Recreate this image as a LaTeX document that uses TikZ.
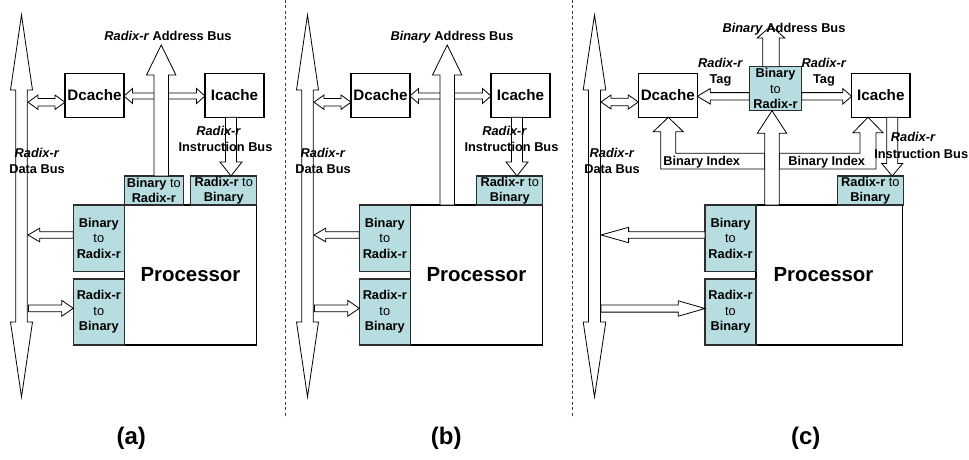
\documentclass[tikz,border=0pt]{standalone}
\usepackage{fontspec}
\setmainfont{Liberation Sans}
\usetikzlibrary{calc}

\definecolor{convblue}{RGB}{183,221,224}
\definecolor{edgegray}{RGB}{45,45,45}

\tikzset{
  blockarrow/.style={draw=black, fill=white, line width=0.8pt, line join=miter},
  whitebox/.style={draw=black, fill=white, line width=1.1pt, inner sep=0pt, outer sep=0pt},
  cache/.style={whitebox, minimum width=59pt, minimum height=44pt,
    font=\fontsize{15.2}{18}\selectfont\bfseries},
  procbox/.style={whitebox, minimum height=140pt,
    font=\fontsize{20.4}{24}\selectfont\bfseries},
  conv/.style={draw=edgegray, fill=convblue, line width=1.1pt, inner sep=0pt, outer sep=0pt,
    align=center, font=\fontsize{12.8}{15.5}\selectfont\bfseries},
  lbl/.style={inner sep=0pt, font=\fontsize{12.8}{15.5}\selectfont\bfseries},
  caption/.style={inner sep=0pt, font=\fontsize{24}{28}\selectfont\bfseries},
  separator/.style={draw=black!75, line width=0.8pt, dash pattern=on 3pt off 2.5pt}
}

% single-headed block arrow: tail, tip, shaft half-width, head half-width, head length
\newcommand\sarrow[5]{%
  \draw[blockarrow]
    ($(#1)!#3!90:(#2)$) --
    ($(#2)!#5!(#1)!#3!-90:(#1)$) --
    ($(#2)!#5!(#1)!#4!-90:(#1)$) --
    (#2) --
    ($(#2)!#5!(#1)!#4!90:(#1)$) --
    ($(#2)!#5!(#1)!#3!90:(#1)$) --
    ($(#1)!#3!-90:(#2)$) -- cycle;}

% double-headed block arrow: end, end, shaft half-width, head half-width, head length
\newcommand\darrow[5]{%
  \draw[blockarrow] (#1) --
    ($(#1)!#5!(#2)!#4!90:(#2)$) --
    ($(#1)!#5!(#2)!#3!90:(#2)$) --
    ($(#2)!#5!(#1)!#3!-90:(#1)$) --
    ($(#2)!#5!(#1)!#4!-90:(#1)$) --
    (#2) --
    ($(#2)!#5!(#1)!#4!90:(#1)$) --
    ($(#2)!#5!(#1)!#3!90:(#1)$) --
    ($(#1)!#5!(#2)!#3!-90:(#2)$) --
    ($(#1)!#5!(#2)!#4!-90:(#2)$) -- cycle;}

% parts shared by the two designs with converters at the processor
\newcommand\sharedpanel[1]{%
  \node[cache] (#1-dc) at (94.5,95.3) {Dcache};
  \node[cache] (#1-ic) at (234.5,95.3) {Icache};
  \node[procbox, minimum width=132.4pt] (#1-proc) at (190.5,275) {Processor};
  \node[conv, minimum width=66pt, minimum height=29pt] (#1-tr2b) at (223.7,190.5)
    {Radix-r \textmd{to}\\Binary};
  \node[conv, minimum width=51pt, minimum height=66.7pt] (#1-lb2r) at (98.8,238.3)
    {Binary\\\textmd{to}\\Radix-r};
  \node[conv, minimum width=51pt, minimum height=66pt] (#1-lr2b) at (98.8,312)
    {Radix-r\\\textmd{to}\\Binary};
  % data bus
  \coordinate (#1-bustop) at (21.5,15);
  \coordinate (#1-busbot) at (21.5,397);
  \darrow{#1-bustop}{#1-busbot}{5.7pt}{11pt}{75pt}
  % data bus <-> Dcache
  \coordinate (#1-bd1) at (28,102.2);
  \coordinate (#1-bd2) at (#1-dc.west |- #1-bd1);
  \darrow{#1-bd1}{#1-bd2}{3.8pt}{7.2pt}{10pt}
  % Dcache <-> Icache
  \coordinate (#1-di1) at (#1-dc.east |- 0,96);
  \coordinate (#1-di2) at (#1-ic.west |- 0,96);
  \darrow{#1-di1}{#1-di2}{3pt}{7.5pt}{8.5pt}
  % instruction bus
  \coordinate (#1-ib1) at (#1-ic.south -| 231,0);
  \coordinate (#1-ib2) at (#1-tr2b.north -| 231,0);
  \sarrow{#1-ib1}{#1-ib2}{5.5pt}{11pt}{14pt}
  % processor -> data bus, data bus -> processor
  \coordinate (#1-o1) at (#1-lb2r.west |- 0,235);
  \coordinate (#1-o2) at (28,235);
  \sarrow{#1-o1}{#1-o2}{3.3pt}{6.8pt}{11.7pt}
  \coordinate (#1-i1) at (28.5,308.3);
  \coordinate (#1-i2) at (#1-lr2b.west |- #1-i1);
  \sarrow{#1-i1}{#1-i2}{3.4pt}{8pt}{11.6pt}
  % labels
  \node[lbl, text height=9.2pt, text depth=0pt] (#1-il1) at (218.7,131) {\textit{Radix-r}};
  \node[lbl, text height=9.2pt, text depth=0pt] (#1-il2) at (225.5,147) {Instruction Bus};
  \node[lbl, align=center] (#1-dl) at (37,161) {\textit{Radix-r}\\Data Bus};
}

\begin{document}
\begin{tikzpicture}[x=1pt,y=-1pt]
\useasboundingbox (0,0) rectangle (969,460);

% ---------- (a) converters at the processor, radix-r address bus ----------
\sharedpanel{a}
\node[conv, minimum width=59pt, minimum height=29pt] (a-tb2r) at (153.8,190.5)
  {Binary \textmd{to}\\Radix-r};
\coordinate (a-addtip) at (161.2,45);
\coordinate (a-addtail) at (a-tb2r.north -| a-addtip);
\sarrow{a-addtail}{a-addtip}{7.2pt}{14.7pt}{30pt}
\node[lbl, text height=9.2pt, text depth=0pt] (a-al) at (168,36) {\textit{Radix-r} Address Bus};

% ---------- (b) converters at the processor, binary address bus ----------
\begin{scope}[shift={(286,0)}]
\sharedpanel{b}
\coordinate (b-addtip) at (161.2,45);
\coordinate (b-addtail) at (b-proc.north -| b-addtip);
\sarrow{b-addtail}{b-addtip}{7.2pt}{14.7pt}{30pt}
\node[lbl, text height=9.2pt, text depth=0pt] (b-al) at (166,36) {\textit{Binary} Address Bus};
\end{scope}

% ---------- (c) tag conversion next to the caches ----------
\node[cache] (c-dc) at (667.8,95.3) {Dcache};
\node[cache, minimum width=58.3pt] (c-ic) at (880.8,95.3) {Icache};
\node[conv, minimum width=52.4pt, minimum height=44pt] (c-cb2r) at (775.5,88.7)
  {Binary\\\textmd{to}\\Radix-r};
\node[procbox, minimum width=146.7pt] (c-proc) at (829.3,275) {};
\node[procbox, draw=none, fill=none] (c-proclbl) at (823.5,275) {Processor};
\node[conv, minimum width=65.5pt, minimum height=29pt] (c-tr2b) at (870.3,190.5)
  {Radix-r \textmd{to}\\Binary};
\node[conv, minimum width=51pt, minimum height=66.7pt] (c-lb2r) at (730.5,238.3)
  {Binary\\\textmd{to}\\Radix-r};
\node[conv, minimum width=51pt, minimum height=66pt] (c-lr2b) at (730.5,312)
  {Radix-r\\\textmd{to}\\Binary};

% data bus and its link to the Dcache
\coordinate (c-bustop) at (594.5,15);
\coordinate (c-busbot) at (594.5,397);
\darrow{c-bustop}{c-busbot}{6pt}{11.3pt}{75pt}
\coordinate (c-bd1) at (601,102);
\coordinate (c-bd2) at (c-dc.west |- c-bd1);
\darrow{c-bd1}{c-bd2}{3.8pt}{7pt}{10pt}

% binary index paths to both caches
\coordinate (c-ixl) at (c-dc.south -| 668.3,0);
\draw[blockarrow] (764.8,153.3) -- (675.8,153.3) -- (675.8,131.7) -- (683.3,131.7)
  -- (c-ixl) -- (653.3,131.7) -- (660.8,131.7) -- (660.8,169) -- (764.8,169) -- cycle;
\coordinate (c-ixr) at (c-ic.south -| 868,0);
\draw[blockarrow] (779.2,153.3) -- (860,153.3) -- (860,132.7) -- (853,132.7)
  -- (c-ixr) -- (883,132.7) -- (876,132.7) -- (876,169) -- (779.2,169) -- cycle;

% processor -> converter
\coordinate (c-up1) at (c-proc.north -| 772,0);
\coordinate (c-up2) at (c-cb2r.south -| 772,0);
\sarrow{c-up1}{c-up2}{7.2pt}{14.7pt}{22.6pt}
% binary address bus
\coordinate (c-ad1) at (c-cb2r.north -| 771,0);
\coordinate (c-ad2) at (771,26);
\sarrow{c-ad1}{c-ad2}{8.3pt}{13.8pt}{12pt}
% radix-r tags
\coordinate (c-tl1) at (c-cb2r.west |- 0,96.3);
\coordinate (c-tl2) at (c-dc.east |- 0,96.3);
\sarrow{c-tl1}{c-tl2}{3.7pt}{7.8pt}{13pt}
\coordinate (c-tr1) at (c-cb2r.east |- 0,96.3);
\coordinate (c-tr2) at (c-ic.west |- 0,96.3);
\sarrow{c-tr1}{c-tr2}{3.7pt}{7.8pt}{9pt}
% instruction bus
\coordinate (c-ib1) at (c-ic.south -| 892.2,0);
\coordinate (c-ib2) at (c-tr2b.north -| 892.2,0);
\sarrow{c-ib1}{c-ib2}{5.5pt}{10.5pt}{12.5pt}
% processor <-> data bus
\coordinate (c-o1) at (c-lb2r.west |- 0,235);
\coordinate (c-o2) at (601,235);
\sarrow{c-o1}{c-o2}{3.3pt}{7.7pt}{27.6pt}
\coordinate (c-i1) at (601,308.5);
\coordinate (c-i2) at (c-lr2b.west |- c-i1);
\sarrow{c-i1}{c-i2}{3.6pt}{7.7pt}{26.7pt}

% labels of (c)
\node[lbl, text height=9.2pt, text depth=0pt] (c-al) at (784,27.7) {\textit{Binary} Address Bus};
\node[lbl, align=center] (c-tagl) at (720.5,72) {\textit{Radix-r}\\Tag};
\node[lbl, align=center] (c-tagr) at (824,72) {\textit{Radix-r}\\Tag};
\node[lbl, text height=9.2pt, text depth=0pt] (c-ixll) at (701.7,161) {Binary Index};
\node[lbl, text height=9.2pt, text depth=0pt] (c-ixrl) at (826.7,161) {Binary Index};
\node[lbl, align=center] (c-dl) at (612,161) {\textit{Radix-r}\\Data Bus};
\node[lbl, text height=9.2pt, text depth=0pt] (c-il1) at (913.3,136.7) {\textit{Radix-r}};
\node[lbl, text height=9.2pt, text depth=0pt] (c-il2) at (921.2,154) {Instruction Bus};

% separators and captions
\coordinate (sep1t) at (285.7,0);
\coordinate (sep1b) at (285.7,418);
\coordinate (sep2t) at (572.3,0);
\coordinate (sep2b) at (572.3,418);
\draw[separator] (sep1t) -- (sep1b);
\draw[separator] (sep2t) -- (sep2b);
\node[caption] (capa) at (131.3,438) {(a)};
\node[caption] (capb) at (446.3,438) {(b)};
\node[caption] (capc) at (805.7,438) {(c)};
\end{tikzpicture}
\end{document}
